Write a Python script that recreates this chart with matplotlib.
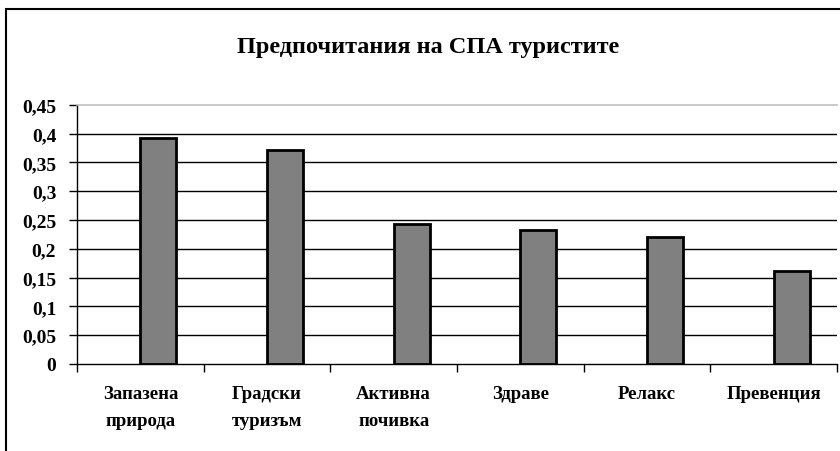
import matplotlib
matplotlib.use("Agg")
import matplotlib.pyplot as plt
from matplotlib.patches import Rectangle
from matplotlib.ticker import FixedLocator, FuncFormatter

# data
categories = ["Запазена\nприрода", "Градски\nтуризъм", "Активна\nпочивка",
              "Здраве", "Релакс", "Превенция"]
values = [0.393, 0.371, 0.243, 0.232, 0.221, 0.162]
y_ticks = [0, 0.05, 0.1, 0.15, 0.2, 0.25, 0.3, 0.35, 0.4, 0.45]
title = "Предпочитания на СПА туристите"

plt.rcParams['font.family'] = ['Liberation Serif', 'DejaVu Serif']
plt.rcParams['font.weight'] = 'bold'

fig = plt.figure(figsize=(8.4, 4.52), dpi=100)
W, H = 840, 452
ax = fig.add_axes([77 / W, 1 - 365 / H, (837 - 77) / W, (365 - 105.7) / H])

x = list(range(len(categories)))
# grid lines below the bars
for v in y_ticks[1:-1]:
    ax.axhline(v, color='black', linewidth=1.0, zorder=1)

ax.bar(x, values, width=0.285, align='edge', color='#808080',
       edgecolor='black', linewidth=2.0, zorder=2)

ax.set_xlim(-0.5, len(categories) - 0.5)
ax.set_ylim(0, 0.45)

ax.yaxis.set_major_locator(FixedLocator(y_ticks))
ax.yaxis.set_major_formatter(FuncFormatter(lambda v, p: f"{v:g}".replace('.', ',')))
ax.tick_params(axis='y', direction='out', length=6, width=1, pad=9, labelsize=14)

ax.set_xticks(x)
ax.set_xticklabels(categories, fontsize=13.5, linespacing=1.75, va='top')
ax.tick_params(axis='x', which='major', length=0, pad=15)
ax.set_xticks([i - 0.5 for i in range(len(categories) + 1)], minor=True)
ax.tick_params(axis='x', which='minor', direction='out', length=6, width=1)

for lbl in ax.get_xticklabels() + ax.get_yticklabels():
    lbl.set_fontweight('bold')

ax.spines['right'].set_visible(False)
ax.spines['top'].set_color('#c0c0c0')
ax.spines['top'].set_linewidth(1.2)
ax.spines['left'].set_linewidth(1.0)
ax.spines['bottom'].set_linewidth(1.0)

fig.text(428 / W, 1 - 47 / H, title, ha='center', va='center',
         fontsize=17.5, fontweight='bold')

# outer chart frame, cropped on the right and bottom
frame = Rectangle((6 / W, -0.1), 1.2, (H - 10) / H + 0.1, transform=fig.transFigure,
                  fill=False, edgecolor='black', linewidth=1.5, clip_on=False)
fig.patches.append(frame)

fig.savefig("out.png", dpi=100)
